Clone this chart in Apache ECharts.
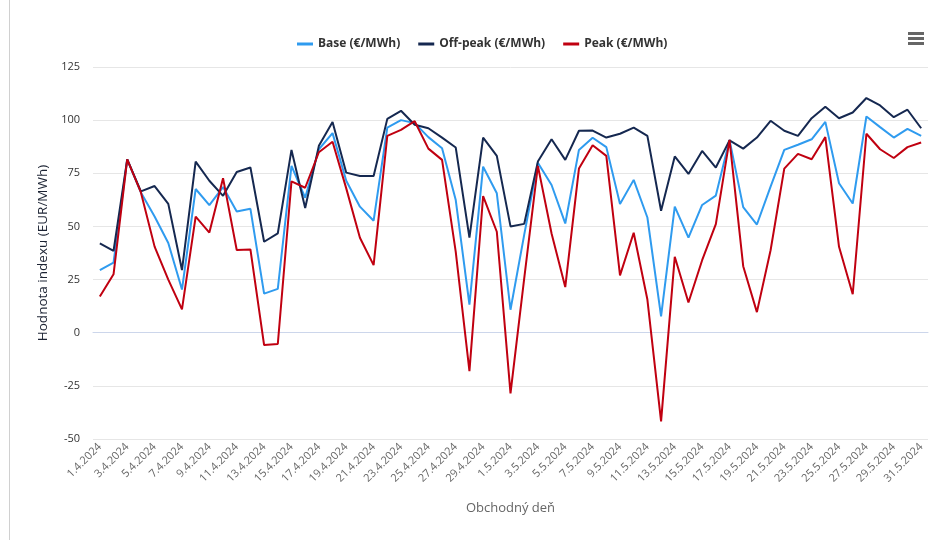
<!DOCTYPE html>
<html>
<head>
<meta charset="utf-8">
<script src="https://cdn.jsdelivr.net/npm/echarts@6/dist/echarts.min.js"></script>
<style>
  html, body { margin: 0; padding: 0; background: #fff; }
  #main { width: 939px; height: 540px; }
</style>
</head>
<body>
<div id="main"></div>
<script>
// obchodné dni (1.4.2024 - 31.5.2024)
const days = [
  '1.4.2024', '2.4.2024', '3.4.2024', '4.4.2024', '5.4.2024', '6.4.2024', '7.4.2024', '8.4.2024',
  '9.4.2024', '10.4.2024', '11.4.2024', '12.4.2024', '13.4.2024', '14.4.2024', '15.4.2024', '16.4.2024',
  '17.4.2024', '18.4.2024', '19.4.2024', '20.4.2024', '21.4.2024', '22.4.2024', '23.4.2024', '24.4.2024',
  '25.4.2024', '26.4.2024', '27.4.2024', '28.4.2024', '29.4.2024', '30.4.2024',
  '1.5.2024', '2.5.2024', '3.5.2024', '4.5.2024', '5.5.2024', '6.5.2024', '7.5.2024', '8.5.2024',
  '9.5.2024', '10.5.2024', '11.5.2024', '12.5.2024', '13.5.2024', '14.5.2024', '15.5.2024', '16.5.2024',
  '17.5.2024', '18.5.2024', '19.5.2024', '20.5.2024', '21.5.2024', '22.5.2024', '23.5.2024', '24.5.2024',
  '25.5.2024', '26.5.2024', '27.5.2024', '28.5.2024', '29.5.2024', '30.5.2024', '31.5.2024'
]

const base = [
  29.5, 33, 81.5, 66, 54.7, 42.2, 20.3, 67.6, 60, 68.5, 57, 58.3, 18.4, 20.6, 78.5, 63.5,
  86.3, 93.9, 71.5, 59.3, 52.7, 96.5, 100, 98.6, 92, 86.8, 62.4, 13.2, 78.1, 65.6,
  10.8, 46, 80, 69.5, 51.4, 86, 91.7, 87.3, 60.5, 71.9, 54.2, 7.7, 59.3, 44.7, 60.1, 64.5,
  90.7, 59.1, 50.9, 68.7, 86, 88.4, 91, 99.2, 70.3, 60.8, 101.7, 96.7, 91.8, 95.9, 92.6
]

const offPeak = [
  42, 38.5, 81.5, 66.5, 69, 60.6, 29.5, 80.5, 71.5, 64.4, 75.6, 77.7, 42.8, 46.7, 86, 58.7,
  87.9, 99.1, 75.3, 73.7, 73.7, 100.6, 104.4, 97.8, 96.2, 91.8, 87.1, 44.7, 91.8, 83.2,
  50, 51.2, 80.5, 91, 81.3, 95, 95.1, 91.8, 93.6, 96.5, 92.6, 57.4, 82.9, 74.7, 85.5, 77.7,
  90.5, 86.6, 91.8, 99.7, 95, 92.6, 100.9, 106.3, 100.9, 103.6, 110.4, 106.9, 101.4, 104.9, 96.2
]

const peak = [
  17, 27.5, 81.5, 66, 40.5, 25, 11, 54.6, 47.1, 72.7, 38.9, 39.2, -5.8, -5.3, 71.2, 68.2,
  84.9, 89.8, 67.9, 44.7, 31.8, 92.6, 95.4, 99.5, 86.6, 81.3, 38, -18.1, 64.3, 47.5,
  -28.5, 25.5, 78.5, 46.7, 21.5, 77.2, 88.2, 83.2, 27, 47, 15.6, -41.7, 35.7, 14.2, 34.1, 51.1,
  90.7, 31.3, 9.7, 38.8, 77.2, 84.1, 81.6, 92, 40.4, 18.1, 93.6, 86.3, 82.2, 87.3, 89.5
]

const seriesNames = ['Base (€/MWh)', 'Off-peak (€/MWh)', 'Peak (€/MWh)']
const colors = ['#2f9bef', '#152850', '#c00010']

var myChart = echarts.init(document.getElementById('main'))

var font = '"Open Sans", sans-serif'

var option = {
  animation: false,
  color: colors,
  textStyle: { fontFamily: font },
  legend: {
    top: 33,
    left: 292,
    icon: 'rect',
    itemWidth: 16,
    itemHeight: 3,
    itemGap: 18,
    textStyle: { color: '#333', fontWeight: 'bold', fontSize: 12, fontFamily: font },
    data: seriesNames
  },
  grid: {
    left: 93,
    right: 11,
    top: 67,
    bottom: 101
  },
  xAxis: {
    type: 'category',
    data: days,
    boundaryGap: true,
    name: 'Obchodný deň',
    nameLocation: 'middle',
    nameGap: 63,
    nameTextStyle: { color: '#666', fontSize: 13 },
    axisLine: { lineStyle: { color: '#ccd6eb' } },
    axisTick: { show: false },
    axisLabel: {
      interval: 1,
      rotate: 45,
      color: '#666',
      fontSize: 11,
      margin: 6
    },
    splitLine: { show: false }
  },
  yAxis: {
    type: 'value',
    min: -50,
    max: 125,
    interval: 25,
    name: 'Hodnota indexu (EUR/MWh)',
    nameLocation: 'middle',
    nameGap: 42,
    nameTextStyle: { color: '#1c2333', fontSize: 13.5 },
    axisLine: { show: false },
    axisTick: { show: false },
    axisLabel: { color: '#333', fontSize: 11, margin: 13 },
    splitLine: { lineStyle: { color: '#e6e6e6' } }
  },
  graphic: [
    {
      type: 'line',
      shape: { x1: 9.5, y1: 0, x2: 9.5, y2: 540 },
      style: { stroke: '#d0d0d0', lineWidth: 1 }
    },
    {
      type: 'group',
      left: 908,
      top: 32,
      children: [
        { type: 'rect', shape: { x: 0, y: 0, width: 16, height: 3 }, style: { fill: '#666' } },
        { type: 'rect', shape: { x: 0, y: 5, width: 16, height: 3 }, style: { fill: '#666' } },
        { type: 'rect', shape: { x: 0, y: 10, width: 16, height: 3 }, style: { fill: '#666' } }
      ]
    }
  ],
  series: [
    {
      name: seriesNames[0],
      type: 'line',
      showSymbol: false,
      symbol: 'none',
      lineStyle: { width: 2 },
      data: base
    },
    {
      name: seriesNames[1],
      type: 'line',
      showSymbol: false,
      symbol: 'none',
      lineStyle: { width: 2 },
      data: offPeak
    },
    {
      name: seriesNames[2],
      type: 'line',
      showSymbol: false,
      symbol: 'none',
      lineStyle: { width: 2 },
      data: peak
    }
  ]
}

option && myChart.setOption(option)
</script>
</body>
</html>
